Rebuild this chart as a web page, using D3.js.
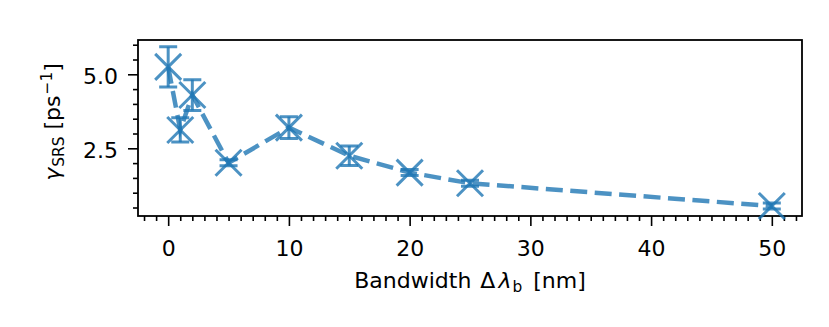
<!DOCTYPE html>
<html>
<head>
<meta charset="utf-8">
<script src="https://cdn.jsdelivr.net/npm/d3@7"></script>
<style>
body { margin: 0; background: #fff; }
text { font-family: "DejaVu Sans", sans-serif; }
</style>
</head>
<body>
<svg id="chart" width="829" height="327"></svg>
<script>
// bandwidth values and measured rates
const bandwidth = [0, 1, 2, 5, 10, 15, 20, 25, 50];
const gamma = [5.25, 3.12, 4.30, 2.01, 3.20, 2.25, 1.68, 1.32, 0.55];
const gammaErr = [0.68, 0.41, 0.52, 0.10, 0.37, 0.33, 0.10, 0.10, 0.10];
const xTicks = [0, 10, 20, 30, 40, 50];
const yTicks = [2.5, 5.0];

const svg = d3.select("#chart");
const m = {left: 138, right: 802, top: 40, bottom: 216};
const color = "#1f77b4";
const fs = 22;

const x = d3.scaleLinear().domain([-2.5, 52.5]).range([m.left, m.right]);
const y = d3.scaleLinear().domain([0.213, 6.159]).range([m.bottom, m.top]);

// axes
const xAxis = svg.append("g").attr("transform", `translate(0,${m.bottom})`);
xAxis.call(d3.axisBottom(x).tickValues(xTicks).tickFormat(d3.format("d")).tickSize(10).tickPadding(14));
xAxis.append("g").call(d3.axisBottom(x).tickValues(d3.range(-2, 53, 1).filter(v => v % 10 !== 0)).tickSize(5).tickFormat(""));

const yAxis = svg.append("g").attr("transform", `translate(${m.left},0)`);
yAxis.call(d3.axisLeft(y).tickValues(yTicks).tickFormat(d3.format(".1f")).tickSize(10).tickPadding(10));
yAxis.append("g").call(d3.axisLeft(y).tickValues(d3.range(0.5, 6.1, 0.5).filter(v => v % 2.5 !== 0)).tickSize(5).tickFormat(""));

svg.selectAll(".domain").remove();
svg.selectAll(".tick line").attr("stroke", "#000").attr("stroke-width", 1.6);
svg.selectAll(".tick text").attr("font-size", fs).attr("fill", "#000");
yAxis.selectAll(".tick text").attr("y", 2);

svg.append("rect")
    .attr("x", m.left).attr("y", m.top)
    .attr("width", m.right - m.left).attr("height", m.bottom - m.top)
    .attr("fill", "none").attr("stroke", "#000").attr("stroke-width", 1.8);

const pts = bandwidth.map((b, i) => ({b: b, g: gamma[i], e: gammaErr[i]}));
const plot = svg.append("g");

// dashed connecting line
plot.append("path")
    .datum(pts)
    .attr("fill", "none")
    .attr("stroke", color)
    .attr("stroke-opacity", 0.8)
    .attr("stroke-width", 4.5)
    .attr("stroke-dasharray", "17,7.5")
    .attr("d", d3.line().x(d => x(d.b)).y(d => y(d.g)));

// error bars: stem and caps drawn separately
const err = plot.append("g").attr("stroke", color).attr("stroke-opacity", 0.8)
    .attr("stroke-width", 3).attr("fill", "none");
err.selectAll("path.stem")
    .data(pts)
    .join("path")
    .attr("class", "stem")
    .attr("d", d => `M${x(d.b)},${y(d.g - d.e)}V${y(d.g + d.e)}`);
err.selectAll("path.cap")
    .data(pts)
    .join("path")
    .attr("class", "cap")
    .attr("d", d => {
        const cx = x(d.b), y0 = y(d.g - d.e), y1 = y(d.g + d.e), c = 9;
        return `M${cx - c},${y0}H${cx + c}M${cx - c},${y1}H${cx + c}`;
    });

// x markers
plot.append("g").attr("stroke", color).attr("stroke-opacity", 0.8).attr("stroke-width", 3)
    .selectAll("path")
    .data(pts)
    .join("path")
    .attr("d", d => {
        const cx = x(d.b), cy = y(d.g), s = 13;
        return `M${cx - s},${cy - s}L${cx + s},${cy + s}M${cx - s},${cy + s}L${cx + s},${cy - s}`;
    });

// labels
const xl = svg.append("text")
    .attr("x", (m.left + m.right) / 2).attr("y", 288)
    .attr("text-anchor", "middle").attr("font-size", fs);
xl.append("tspan").text("Bandwidth ");
xl.append("tspan").attr("dx", 2).text("\u0394");
xl.append("tspan").attr("dx", 3).attr("font-style", "italic").text("\u03bb");
xl.append("tspan").attr("font-size", fs * 0.7).attr("dx", 1).attr("dy", 4).text("b");
xl.append("tspan").attr("dx", 4).attr("dy", -4).text(" [nm]");

const yl = svg.append("text")
    .attr("transform", `translate(60,122) rotate(-90)`)
    .attr("text-anchor", "middle").attr("font-size", fs);
yl.append("tspan").attr("font-style", "italic").text("\u03b3");
yl.append("tspan").attr("font-size", fs * 0.7).attr("dx", 1).attr("dy", 4).text("SRS");
yl.append("tspan").attr("dy", -4).text(" [ps");
yl.append("tspan").attr("font-size", fs * 0.7).attr("dx", 1).attr("dy", -8).text("\u22121");
yl.append("tspan").attr("dy", 8).text("]");
</script>
</body>
</html>
